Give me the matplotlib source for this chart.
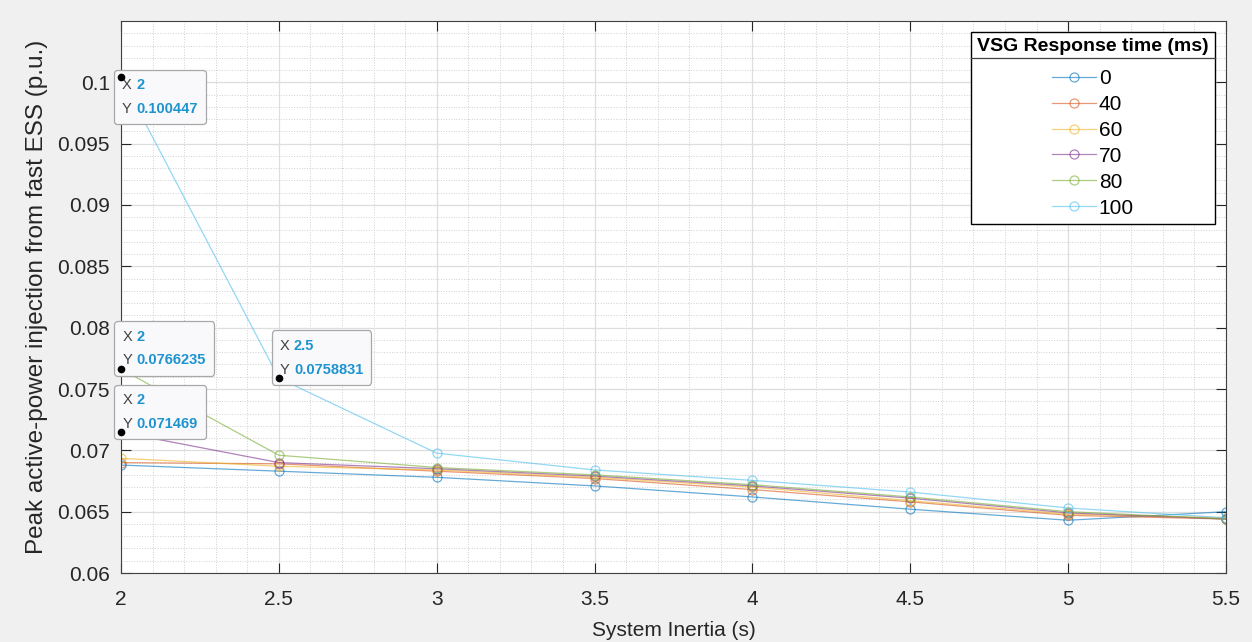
import matplotlib
matplotlib.use('Agg')
import matplotlib.pyplot as plt
from matplotlib.ticker import MultipleLocator
from matplotlib.offsetbox import TextArea, HPacker, VPacker, AnnotationBbox
from matplotlib.lines import Line2D

plt.rcParams['font.family'] = ['Liberation Sans', 'DejaVu Sans']

# system inertia (s)
inertia = [2, 2.5, 3, 3.5, 4, 4.5, 5, 5.5]

# peak active power from the fast ESS (p.u.), one series per VSG response time
response_ms = ['0', '40', '60', '70', '80', '100']
p_0 = [0.0688, 0.0683, 0.0678, 0.0671, 0.0662, 0.0652, 0.0643, 0.0650]
p_40 = [0.0690, 0.0689, 0.0683, 0.0677, 0.0668, 0.0658, 0.0647, 0.0644]
p_60 = [0.06935, 0.0687, 0.0684, 0.0678, 0.0670, 0.0659, 0.0648, 0.0645]
p_70 = [0.071469, 0.0690, 0.0685, 0.0679, 0.0671, 0.0661, 0.0649, 0.0644]
p_80 = [0.0766235, 0.0696, 0.0686, 0.0680, 0.0672, 0.0662, 0.0650, 0.0644]
p_100 = [0.100447, 0.0758831, 0.06977, 0.0684, 0.06755, 0.0666, 0.0653, 0.0645]
series = [p_0, p_40, p_60, p_70, p_80, p_100]

colors = ['#0072BD', '#D95319', '#EDB120', '#7E2F8E', '#77AC30', '#4DBEEE']

x_ticks = [2, 2.5, 3, 3.5, 4, 4.5, 5, 5.5]
x_labels = ['2', '2.5', '3', '3.5', '4', '4.5', '5', '5.5']
y_ticks = [0.06, 0.065, 0.07, 0.075, 0.08, 0.085, 0.09, 0.095, 0.1]
y_labels = ['0.06', '0.065', '0.07', '0.075', '0.08', '0.085', '0.09', '0.095', '0.1']

# data tips: (series index, point index, box offset, box alignment)
tips = [(5, 0, (0.8, -0.8), (0, 1)),
        (4, 0, (1.2, 1.2), (0, 0)),
        (3, 0, (1.2, 1.2), (0, 0)),
        (5, 1, (0.8, 1.2), (0, 0))]

fig = plt.figure(figsize=(12.52, 6.42), dpi=100, facecolor='#f0f0f0')
ax = fig.add_axes([121 / 1252, 69 / 642, 1105 / 1252, 552 / 642])

for vals, lab, c in zip(series, response_ms, colors):
    ax.plot(inertia, vals, color=c, alpha=0.6, lw=0.9, marker='o', ms=6.5,
            mfc='none', mec=c, mew=0.9, label=lab)

ax.set_xlim(2, 5.5)
ax.set_ylim(0.06, 0.105)
ax.set_xticks(x_ticks)
ax.set_xticklabels(x_labels)
ax.set_yticks(y_ticks)
ax.set_yticklabels(y_labels)
ax.xaxis.set_minor_locator(MultipleLocator(0.1))
ax.yaxis.set_minor_locator(MultipleLocator(0.001))

ax.grid(which='major', color='#dedede', lw=0.9, ls='-')
ax.grid(which='minor', color='#cfcfcf', lw=0.7, ls=':')
ax.set_axisbelow(True)
ax.tick_params(which='major', direction='in', length=7, width=0.8,
               top=True, right=True, labelsize=15, colors='#262626', pad=8)
ax.tick_params(axis='x', which='major', pad=12)
ax.tick_params(which='minor', length=0)
for s in ax.spines.values():
    s.set_color('#404040')
    s.set_linewidth(0.8)

ax.set_xlabel('System Inertia (s)', fontsize=15, color='#262626', labelpad=9)
ax.set_ylabel('Peak active-power injection from fast ESS (p.u.)', fontsize=17.5,
              color='#262626', labelpad=7)

# data tips with black dots
for si, pi, off, align in tips:
    xv = inertia[pi]
    yv = series[si][pi]
    ax.plot(xv, yv, 'o', color='black', ms=4.5, zorder=9, clip_on=False)
    rows = []
    for k, v in (('X', '%g' % xv), ('Y', '%g' % yv)):
        rows.append(HPacker(children=[
            TextArea(k, textprops=dict(fontsize=10.5, color='#404040')),
            TextArea(v, textprops=dict(fontsize=10.5, color='#1d94cf', fontweight='bold'))],
            sep=3, pad=0, align='baseline'))
    box = VPacker(children=rows, sep=7, pad=0, align='left')
    ab = AnnotationBbox(box, (xv, yv), xybox=off, xycoords='data',
                        boxcoords='offset points', box_alignment=align,
                        pad=0.6, zorder=7,
                        bboxprops=dict(boxstyle='round,pad=0.6,rounding_size=0.25',
                                       fc='#f9f9fb', ec='#a8a8a8', lw=0.9))
    ax.add_artist(ab)

leg = ax.legend(loc='upper right', bbox_to_anchor=(1 - 11 / 1105, 1 - 11 / 552),
                borderaxespad=0, fontsize=15, title='VSG Response time (ms)',
                title_fontproperties={'size': 14, 'weight': 'bold'},
                fancybox=False, framealpha=1, edgecolor='black', borderpad=0.3,
                handlelength=2.1, handletextpad=0.15, labelspacing=0.33,
                alignment='center')
leg._legend_box.sep = 10
leg.get_frame().set_linewidth(1.0)
leg.set_zorder(10)

# line under the legend title
fig.canvas.draw()
r = fig.canvas.get_renderer()
fr = leg.get_frame().get_window_extent(r)
tb = leg.get_title().get_window_extent(r)
yl = tb.y0 - 3
inv = fig.transFigure.inverted()
(x0, y0), (x1, _) = inv.transform([(fr.x0, yl), (fr.x1, yl)])
fig.add_artist(Line2D([x0, x1], [y0, y0], transform=fig.transFigure,
                      color='#404040', lw=0.9, zorder=11))

plt.savefig('out.png', dpi=100, facecolor=fig.get_facecolor())
